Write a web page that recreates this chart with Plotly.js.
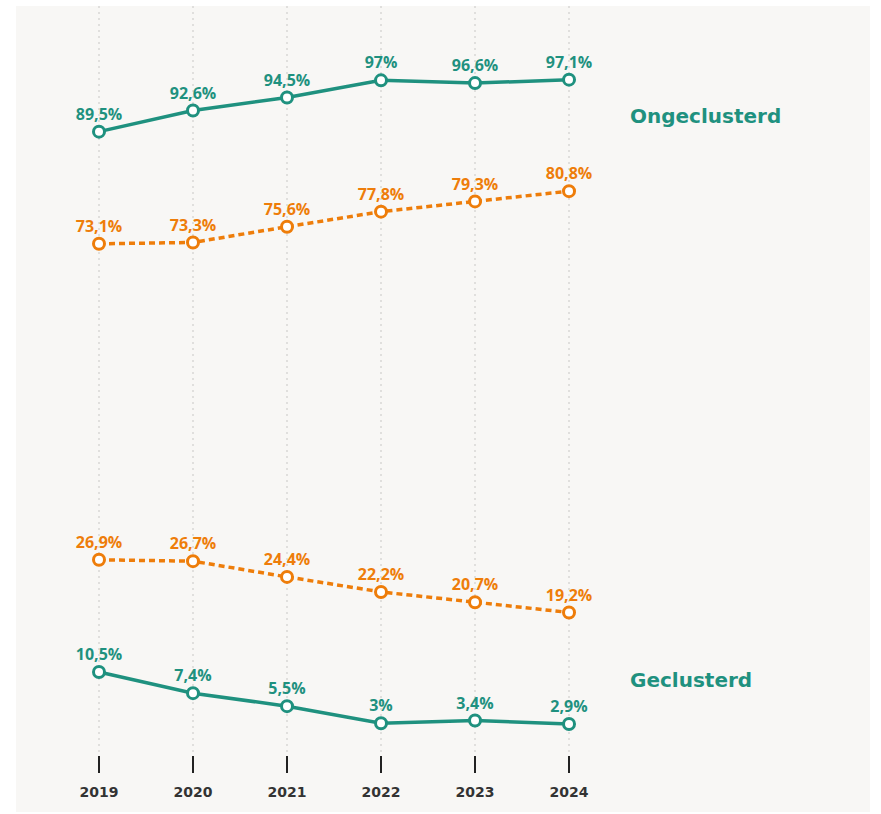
<!DOCTYPE html>
<html>
<head>
<meta charset="utf-8">
<script src="https://cdn.plot.ly/plotly-3.0.1.min.js"></script>
<style>html,body{margin:0;padding:0;background:#fff;}#chart{width:881px;height:814px;}</style>
</head>
<body>
<div id="chart"></div>
<script>
const years = [2019, 2020, 2021, 2022, 2023, 2024];
const tickLabels = ['2019', '2020', '2021', '2022', '2023', '2024'];
const ongeclusterdTeal = [89.5, 92.6, 94.5, 97, 96.6, 97.1];
const ongeclusterdOrange = [73.1, 73.3, 75.6, 77.8, 79.3, 80.8];
const geclusterdOrange = [26.9, 26.7, 24.4, 22.2, 20.7, 19.2];
const geclusterdTeal = [10.5, 7.4, 5.5, 3, 3.4, 2.9];
const seriesNames = ['Ongeclusterd', 'Geclusterd'];

const TEAL = '#1f917f';
const ORANGE = '#ee7d0a';

function fmt(v) { return String(v).replace('.', ',') + '%'; }

function makeTrace(vals, color, dash) {
  return {
    x: years, y: vals, type: 'scatter', mode: 'lines+markers+text',
    line: {color: color, width: 3.5, dash: dash},
    marker: {symbol: 'circle', size: 11, color: '#ffffff', line: {color: color, width: 3}},
    text: vals.map(fmt), textposition: 'top center',
    textfont: {family: 'Open Sans', size: 16, color: color, weight: 700},
    hoverinfo: 'skip', cliponaxis: false, showlegend: false
  };
}

const data = [
  makeTrace(ongeclusterdOrange, ORANGE, '6px,4px'),
  makeTrace(geclusterdOrange, ORANGE, '6px,4px'),
  makeTrace(ongeclusterdTeal, TEAL, 'solid'),
  makeTrace(geclusterdTeal, TEAL, 'solid')
];

const layout = {
  width: 881, height: 814,
  margin: {l: 16, r: 11, t: 6, b: 59},
  paper_bgcolor: '#ffffff',
  plot_bgcolor: 'rgba(0,0,0,0)',
  showlegend: false,
  xaxis: {
    range: [2018.117, 2027.202], tickvals: years, ticktext: tickLabels,
    showgrid: true, gridcolor: '#e0dfdd', gridwidth: 2, griddash: '2px,4px',
    zeroline: false, showline: false,
    ticks: 'outside', ticklen: 17, tickwidth: 1.2, tickcolor: '#222',
    ticklabelstandoff: 7,
    tickfont: {family: 'DejaVu Sans', size: 14, color: '#333', weight: 700},
    fixedrange: true
  },
  yaxis: {
    range: [-1.64, 107.87], showgrid: false, zeroline: false, showline: false,
    showticklabels: false, ticks: '', fixedrange: true
  },
  shapes: [{
    type: 'rect', xref: 'paper', yref: 'paper', layer: 'below',
    x0: 0, x1: 1, y0: -0.0761, y1: 1,
    fillcolor: '#f8f7f5', line: {width: 0}
  }],
  annotations: [
    {x: 2024.628, y: 91.78, xref: 'x', yref: 'y', text: seriesNames[0], showarrow: false,
     xanchor: 'left', yanchor: 'middle', font: {family: 'DejaVu Sans', size: 20, color: TEAL, weight: 700}},
    {x: 2024.628, y: 9.33, xref: 'x', yref: 'y', text: seriesNames[1], showarrow: false,
     xanchor: 'left', yanchor: 'middle', font: {family: 'DejaVu Sans', size: 20, color: TEAL, weight: 700}}
  ]
};

Plotly.newPlot('chart', data, layout, {displayModeBar: false, staticPlot: true});
</script>
</body>
</html>
